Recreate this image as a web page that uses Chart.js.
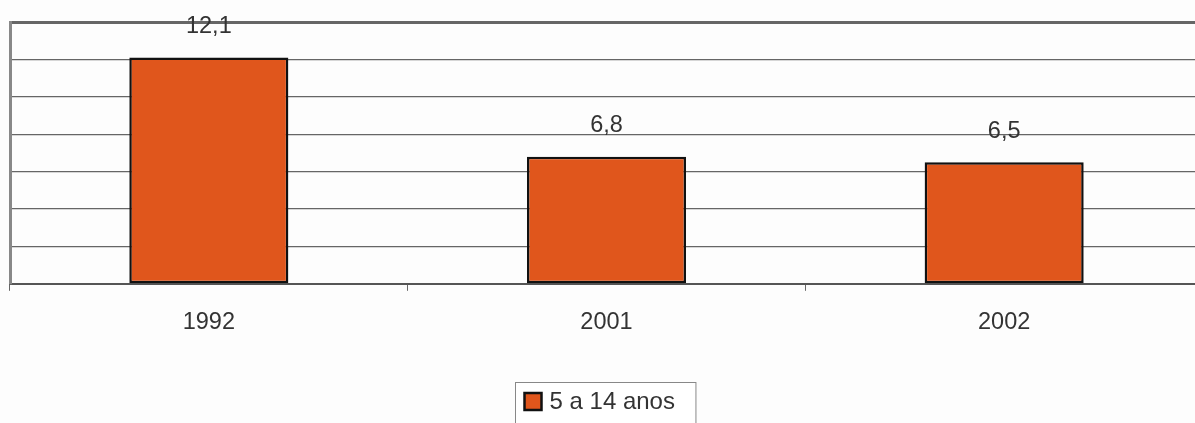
<!DOCTYPE html>
<html>
<head>
<meta charset="utf-8">
<script src="https://cdn.jsdelivr.net/npm/chart.js@4"></script>
<style>
  html, body { margin: 0; padding: 0; background: #fdfdfd; overflow: hidden; }
  #wrap { position: relative; width: 1203px; height: 423px; }
</style>
</head>
<body>
<div id="wrap"><canvas id="c"></canvas></div>
<script>
const categories = ['1992', '2001', '2002'];
const seriesLabel = '5 a 14 anos';
const seriesValues = [12.1, 6.8, 6.5];
const yMin = 0, yMax = 14, yStep = 2;

const FONT = '"Liberation Sans", Arial, sans-serif';
const BAR_COLOR = '#E0561C';

const valueLabels = {
  id: 'valueLabels',
  afterDatasetsDraw(chart) {
    const ctx = chart.ctx;
    const meta = chart.getDatasetMeta(0);
    ctx.save();
    ctx.font = '23.5px ' + FONT;
    ctx.fillStyle = '#333';
    ctx.textAlign = 'center';
    ctx.textBaseline = 'middle';
    meta.data.forEach((bar, i) => {
      const txt = seriesValues[i].toFixed(1).replace('.', ',');
      ctx.fillText(txt, bar.x, bar.y - 31);
    });
    ctx.restore();
  }
};

const boxLegend = {
  id: 'boxLegend',
  afterDraw(chart) {
    const ctx = chart.ctx;
    const ca = chart.chartArea;
    const cx = (ca.left + ca.right) / 2;
    ctx.save();
    ctx.font = '24px ' + FONT;
    const tw = ctx.measureText(seriesLabel).width;
    const sw = 17, gap = 8, padL = 8, padR = 22;
    const w = padL + sw + gap + tw + padR;
    const x0 = Math.round(cx - w / 2) - 0.5;
    const y0 = 382.5;
    ctx.strokeStyle = '#888';
    ctx.lineWidth = 1;
    ctx.fillStyle = '#fff';
    ctx.fillRect(x0, y0, w, 60);
    ctx.strokeRect(x0, y0, w, 60);
    const sx = x0 + padL + 1, sy = 393;
    ctx.fillStyle = BAR_COLOR;
    ctx.fillRect(sx, sy, sw, sw);
    ctx.lineWidth = 2.5;
    ctx.strokeStyle = '#111';
    ctx.strokeRect(sx, sy, sw, sw);
    ctx.fillStyle = '#333';
    ctx.textBaseline = 'middle';
    ctx.textAlign = 'left';
    ctx.fillText(seriesLabel, sx + sw + gap, sy + sw / 2 + 1);
    ctx.restore();
  }
};

new Chart(document.getElementById('c'), {
  type: 'bar',
  data: {
    labels: categories,
    datasets: [{
      label: seriesLabel,
      data: seriesValues,
      backgroundColor: BAR_COLOR,
      borderColor: '#111',
      borderWidth: 2.5,
      borderSkipped: false,
      categoryPercentage: 1.0,
      barPercentage: 0.4
    }]
  },
  options: {
    responsive: true,
    maintainAspectRatio: false,
    animation: false,
    layout: { padding: { top: 22, left: 10, right: 0, bottom: 68 } },
    plugins: {
      legend: { display: false },
      tooltip: { enabled: false }
    },
    scales: {
      x: {
        grid: {
          offset: true,
          drawOnChartArea: false,
          drawTicks: true,
          tickLength: 7,
          color: '#666',
          lineWidth: 1
        },
        border: { display: true, color: '#555', width: 2 },
        ticks: {
          color: '#333',
          font: { family: FONT, size: 23.5 },
          padding: 18,
          maxRotation: 0
        }
      },
      y: {
        min: yMin,
        max: yMax,
        ticks: { display: false, stepSize: yStep },
        grid: {
          drawTicks: false,
          color: '#666',
          lineWidth: (c) => (c.tick && c.tick.value === yMax ? 3 : 1.2)
        },
        border: { display: true, color: '#888', width: 3 }
      }
    }
  },
  plugins: [valueLabels, boxLegend]
});
</script>
</body>
</html>
